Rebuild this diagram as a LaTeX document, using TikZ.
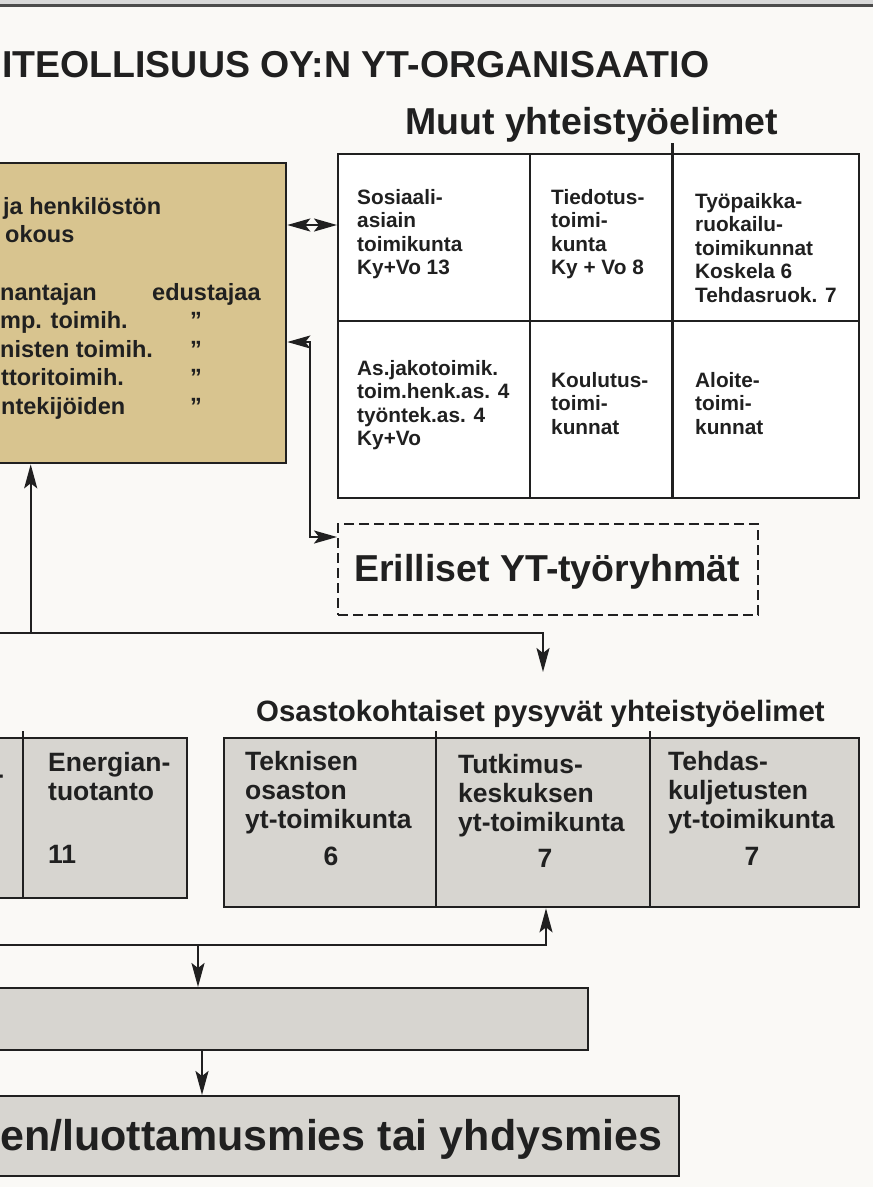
\documentclass[tikz,border=0pt]{standalone}
\usepackage{fontspec}
\setmainfont{Liberation Sans}
\usetikzlibrary{arrows.meta}
\definecolor{tanfill}{RGB}{216,196,143}
\definecolor{boxgray}{RGB}{215,213,208}
\definecolor{paper}{RGB}{250,249,246}
\definecolor{ink}{RGB}{32,32,32}
\newcommand\myfs[2]{\fontsize{#1}{#2}\selectfont}
\begin{document}
\begin{tikzpicture}[x=1pt,y=-1pt,
  box/.style={draw=ink, line width=2.3pt, inner sep=0pt, anchor=north west},
  lbl/.style={inner sep=0pt, anchor=base west, text=ink},
  cell/.style={lbl, align=left},
  conn/.style={draw=ink, line width=2.2pt},
  arr/.style={-{Stealth[length=24pt,width=13pt,inset=5pt]}},
  arrb/.style={{Stealth[length=23pt,width=13pt,inset=5pt]}-{Stealth[length=23pt,width=13pt,inset=5pt]}},
  grid/.style={draw=ink, line width=2.3pt},
  big/.style={font=\bfseries\myfs{37.5}{44}},
  tanf/.style={font=\bfseries\myfs{23.5}{28.5}},
  tabf/.style={font=\bfseries\myfs{20.8}{23.6}},
  lowf/.style={font=\bfseries\myfs{26.5}{29}}
]
\useasboundingbox (0,0) rectangle (873,1187);
\clip (0,0) rectangle (873,1187);
\fill[paper] (0,0) rectangle (873,1187);
% top rule
\fill[gray!30] (0,0) rectangle (873,4);
\draw[line width=3pt, gray!60!black] (0,5.5) -- (873,5.5);

% titles
\node[lbl, big] (title) at (2,77) {ITEOLLISUUS OY:N YT-ORGANISAATIO};
\node[lbl, big] (muut) at (405,134) {Muut yhteistyöelimet};

% tan box
\node[box, fill=tanfill, minimum width=310pt, minimum height=300pt] (tan) at (-25,162) {};
\node[lbl, tanf] (t1) at (3,214) {ja henkilöstön};
\node[lbl, tanf] (t2) at (5,242.5) {okous};
\node[lbl, tanf] (t3) at (0,300) {nantajan};
\node[lbl, tanf] (t3b) at (152,300) {edustajaa};
\node[lbl, tanf] (t4) at (0,328.5) {mp. toimih.};
\node[lbl, tanf] (t4b) at (190,328.5) {”};
\node[lbl, tanf] (t5) at (0,357) {nisten toimih.};
\node[lbl, tanf] (t5b) at (190,357) {”};
\node[lbl, tanf] (t6) at (1,385.5) {ttoritoimih.};
\node[lbl, tanf] (t6b) at (190,385.5) {”};
\node[lbl, tanf] (t7) at (1,414) {ntekijöiden};
\node[lbl, tanf] (t7b) at (190,414) {”};

% upper table
\node[box, fill=white, minimum width=521pt, minimum height=344pt] (tab) at (337,153) {};
\draw[grid] (530,153) -- (530,497);
\draw[grid] (672.5,143) -- (672.5,497);
\draw[grid] (337,321) -- (858,321);
% multi-line nodes: base anchor = baseline of last line
\node[cell, tabf] (c11) at (357,274.8) {Sosiaali-\\asiain\\toimikunta\\Ky+Vo 13};
\node[cell, tabf] (c12) at (551,274.8) {Tiedotus-\\toimi-\\kunta\\Ky + Vo 8};
\node[cell, tabf] (c13) at (695,302.4) {Työpaikka-\\ruokailu-\\toimikunnat\\Koskela 6\\Tehdasruok. 7};
\node[cell, tabf] (c21) at (357,445.8) {As.jakotoimik.\\toim.henk.as. 4\\työntek.as. 4\\Ky+Vo};
\node[cell, tabf] (c22) at (551,434.2) {Koulutus-\\toimi-\\kunnat};
\node[cell, tabf] (c23) at (695,434.2) {Aloite-\\toimi-\\kunnat};

% connectors near tan box
\coordinate (r1) at (311,225);
\draw[conn, arrb] (tan.east |- r1) -- (tab.west |- r1);

% dashed box
\node[draw=ink, line width=2pt, dash pattern=on 10pt off 5pt, inner sep=0pt, anchor=north west,
      minimum width=420pt, minimum height=91pt] (dash) at (337,523) {};
\node[lbl, big, anchor=base] (dashtxt) at (547,581) {Erilliset YT-työryhmät};

\coordinate (v1) at (310,342);
\coordinate (v2) at (310,537);
\draw[conn, arrb] (tan.east |- v1) -- (v1) -- (v2) -- (dash.west |- v2);

% upper distribution line
\coordinate (h1l) at (-5,633);
\coordinate (h1u) at (30.7,633);
\coordinate (h1r) at (543,633);
\coordinate (osain) at (543,672);
\draw[conn, arr] (h1u) -- (tan.south -| h1u);
\draw[conn, arr] (h1l) -- (h1r) -- (osain);

% Osastokohtaiset
\node[lbl, font=\bfseries\myfs{29.4}{34}] (osa) at (256,721) {Osastokohtaiset pysyvät yhteistyöelimet};

% left partial box
\node[box, fill=boxgray, minimum width=206pt, minimum height=160pt] (ebox) at (-20,737) {};
\draw[grid] (22.7,731) -- (22.7,897);
\node[lbl, lowf] (hy) at (-5,783) {-};
\node[cell, lowf] (en) at (48,800) {Energian-\\tuotanto};
\node[lbl, lowf] (en11) at (48,863) {11};

% lower table
\node[box, fill=boxgray, minimum width=635pt, minimum height=169pt] (ltab) at (223,737) {};
\draw[grid] (436,731) -- (436,906);
\draw[grid] (650,731) -- (650,906);
\node[cell, lowf] (l1) at (245,828) {Teknisen\\osaston\\yt-toimikunta};
\node[lbl, lowf, anchor=base] (l1n) at (331,865) {6};
\node[cell, lowf] (l2) at (458,831) {Tutkimus-\\keskuksen\\yt-toimikunta};
\node[lbl, lowf, anchor=base] (l2n) at (545,867) {7};
\node[cell, lowf] (l3) at (668,828) {Tehdas-\\kuljetusten\\yt-toimikunta};
\node[lbl, lowf, anchor=base] (l3n) at (752,865) {7};

% lower boxes
\node[box, fill=boxgray, minimum width=607pt, minimum height=62pt] (mid) at (-20,987) {};
\node[box, fill=boxgray, minimum width=698pt, minimum height=80pt] (bot) at (-20,1095) {};
\node[lbl, font=\bfseries\myfs{43}{50}] (bottxt) at (0,1150) {en/luottamusmies tai yhdysmies};

% lower connectors
\coordinate (h2l) at (-5,945);
\coordinate (h2r) at (546,945);
\coordinate (d1) at (198,945);
\coordinate (d2) at (202,1000);
\draw[conn, arr] (h2l) -- (h2r) -- (ltab.south -| h2r);
\draw[conn, arr] (d1) -- (d1 |- mid.north);
\draw[conn, arr] (mid.south -| d2) -- (bot.north -| d2);
\end{tikzpicture}
\end{document}
